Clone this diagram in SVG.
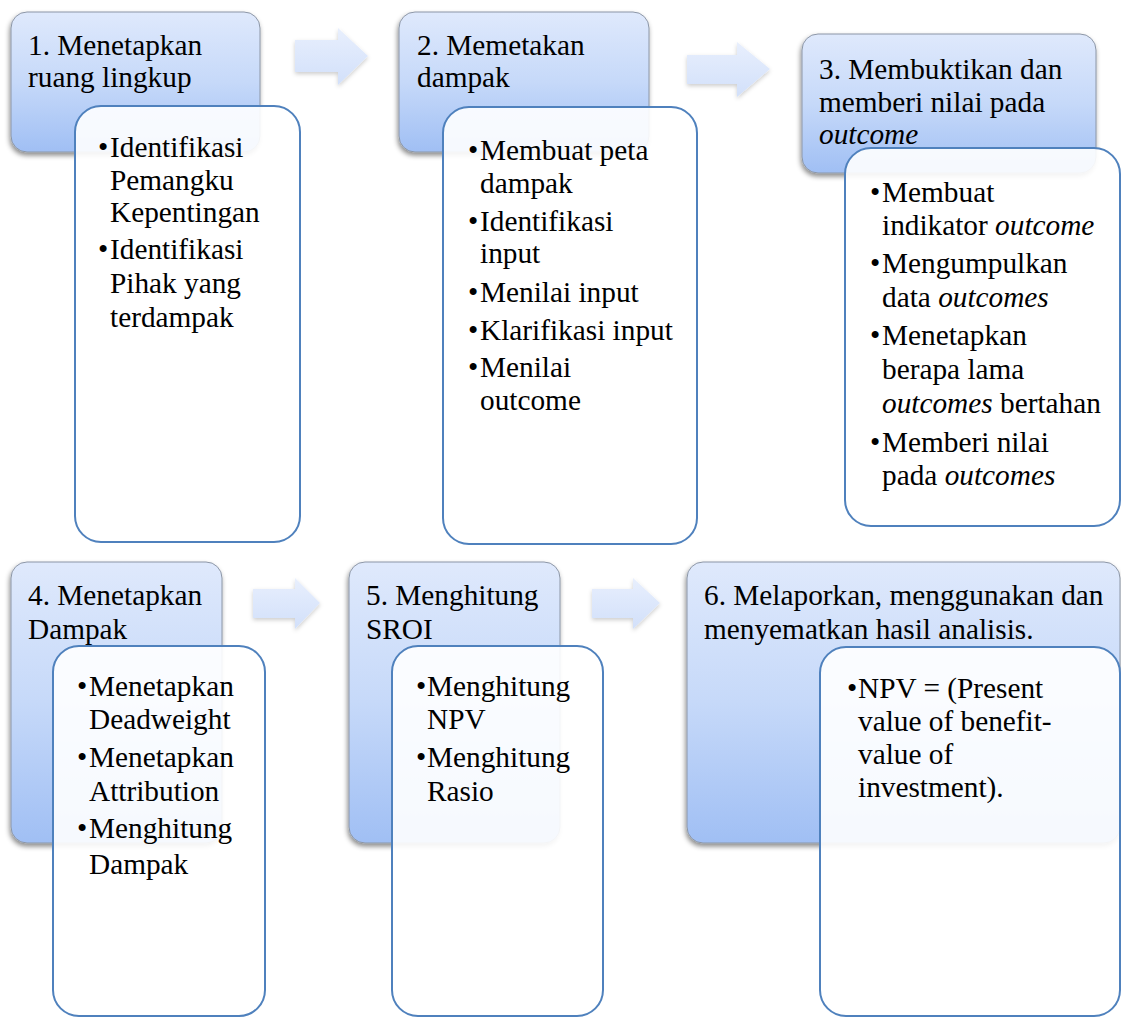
<svg xmlns="http://www.w3.org/2000/svg" width="1121" height="1018" viewBox="0 0 1121 1018">
<style>
.t{font-family:"Liberation Serif","Times New Roman",serif;font-size:29.3px;fill:#000}
.i{font-style:italic}
.hdr{fill:url(#blueGrad);stroke:#8c96a6;stroke-width:1;filter:url(#shadow)}
.inner{fill:#ffffff;fill-opacity:0.9;stroke:#4f81bd;stroke-width:2}
.arrow{fill:url(#arrowGrad);filter:url(#ashadow)}
</style>
<defs>
<linearGradient id="blueGrad" x1="0" y1="0" x2="0" y2="1">
<stop offset="0" stop-color="#dfe9fc"/>
<stop offset="0.5" stop-color="#c6d9f9"/>
<stop offset="1" stop-color="#a0bff4"/>
</linearGradient>
<linearGradient id="arrowGrad" x1="0" y1="0" x2="0" y2="1">
<stop offset="0" stop-color="#e8effd"/>
<stop offset="1" stop-color="#d2e0fa"/>
</linearGradient>
<filter id="shadow" x="-10%" y="-10%" width="120%" height="125%">
<feDropShadow dx="-1" dy="3" stdDeviation="2.5" flood-color="#000" flood-opacity="0.45"/>
</filter>
<filter id="ashadow" x="-20%" y="-20%" width="140%" height="150%">
<feDropShadow dx="0" dy="2" stdDeviation="2" flood-color="#000" flood-opacity="0.2"/>
</filter>
</defs>
<g id="connectors">
<path class="arrow" d="M295,40 H338 V28 L368,56 L338,85 V72 H295 Z"/>
<path class="arrow" d="M687,55 H737 V42 L770,69 L737,97 V84 H687 Z"/>
<path class="arrow" d="M253,589 H295 V578 L320,603 L295,629 V618 H253 Z"/>
<path class="arrow" d="M592,589 H633 V578 L660,603 L633,629 V618 H592 Z"/>
</g>
<g id="node1">
<rect class="hdr" x="11" y="12" width="249" height="140" rx="16"/>
<text class="t" x="28" y="55">1. Menetapkan</text>
<text class="t" x="28" y="87">ruang lingkup</text>
<rect class="inner" x="75" y="106" width="225" height="436" rx="26"/>
<text class="t" x="98" y="157">•</text><text class="t" x="110" y="157">Identifikasi</text>
<text class="t" x="110" y="190">Pemangku</text>
<text class="t" x="110" y="222">Kepentingan</text>
<text class="t" x="98" y="259">•</text><text class="t" x="110" y="259">Identifikasi</text>
<text class="t" x="110" y="293">Pihak yang</text>
<text class="t" x="110" y="327">terdampak</text>
</g>
<g id="node2">
<rect class="hdr" x="399" y="12" width="250" height="140" rx="16"/>
<text class="t" x="417" y="55">2. Memetakan</text>
<text class="t" x="417" y="87">dampak</text>
<rect class="inner" x="443" y="107" width="254" height="437" rx="26"/>
<text class="t" x="468" y="160">•</text><text class="t" x="480" y="160">Membuat peta</text>
<text class="t" x="480" y="193">dampak</text>
<text class="t" x="468" y="231">•</text><text class="t" x="480" y="231">Identifikasi</text>
<text class="t" x="480" y="263">input</text>
<text class="t" x="468" y="302">•</text><text class="t" x="480" y="302">Menilai input</text>
<text class="t" x="468" y="340">•</text><text class="t" x="480" y="340">Klarifikasi input</text>
<text class="t" x="468" y="377">•</text><text class="t" x="480" y="377">Menilai</text>
<text class="t" x="480" y="410">outcome</text>
</g>
<g id="node3">
<rect class="hdr" x="802" y="34" width="294" height="139" rx="16"/>
<text class="t" x="819" y="79">3. Membuktikan dan</text>
<text class="t" x="819" y="112">memberi nilai pada</text>
<text class="t i" x="819" y="144">outcome</text>
<rect class="inner" x="845" y="148" width="275" height="378" rx="26"/>
<text class="t" x="870" y="202">•</text><text class="t" x="882" y="202">Membuat</text>
<text class="t" x="882" y="235">indikator <tspan class="i">outcome</tspan></text>
<text class="t" x="870" y="273">•</text><text class="t" x="882" y="273">Mengumpulkan</text>
<text class="t" x="882" y="307">data <tspan class="i">outcomes</tspan></text>
<text class="t" x="870" y="345">•</text><text class="t" x="882" y="345">Menetapkan</text>
<text class="t" x="882" y="379">berapa lama</text>
<text class="t" x="882" y="413"><tspan class="i">outcomes</tspan> bertahan</text>
<text class="t" x="870" y="452">•</text><text class="t" x="882" y="452">Memberi nilai</text>
<text class="t" x="882" y="485">pada <tspan class="i">outcomes</tspan></text>
</g>
<g id="node4">
<rect class="hdr" x="11" y="562" width="211" height="281" rx="16"/>
<text class="t" x="28" y="605">4. Menetapkan</text>
<text class="t" x="28" y="639">Dampak</text>
<rect class="inner" x="53" y="646" width="212" height="370" rx="26"/>
<text class="t" x="77" y="696">•</text><text class="t" x="89" y="696">Menetapkan</text>
<text class="t" x="89" y="729">Deadweight</text>
<text class="t" x="77" y="767">•</text><text class="t" x="89" y="767">Menetapkan</text>
<text class="t" x="89" y="801">Attribution</text>
<text class="t" x="77" y="838">•</text><text class="t" x="89" y="838">Menghitung</text>
<text class="t" x="89" y="874">Dampak</text>
</g>
<g id="node5">
<rect class="hdr" x="349" y="562" width="211" height="281" rx="16"/>
<text class="t" x="366" y="605">5. Menghitung</text>
<text class="t" x="366" y="639">SROI</text>
<rect class="inner" x="392" y="646" width="211" height="370" rx="26"/>
<text class="t" x="416" y="696">•</text><text class="t" x="427" y="696">Menghitung</text>
<text class="t" x="427" y="729">NPV</text>
<text class="t" x="416" y="767">•</text><text class="t" x="427" y="767">Menghitung</text>
<text class="t" x="427" y="801">Rasio</text>
</g>
<g id="node6">
<rect class="hdr" x="687" y="562" width="433" height="281" rx="16"/>
<text class="t" x="704" y="605">6. Melaporkan, menggunakan dan</text>
<text class="t" x="704" y="639">menyematkan hasil analisis.</text>
<rect class="inner" x="820" y="647" width="300" height="369" rx="26"/>
<text class="t" x="847" y="698">•</text><text class="t" x="858" y="698">NPV = (Present</text>
<text class="t" x="858" y="731">value of benefit-</text>
<text class="t" x="858" y="764">value of</text>
<text class="t" x="858" y="797">investment).</text>
</g>
</svg>
